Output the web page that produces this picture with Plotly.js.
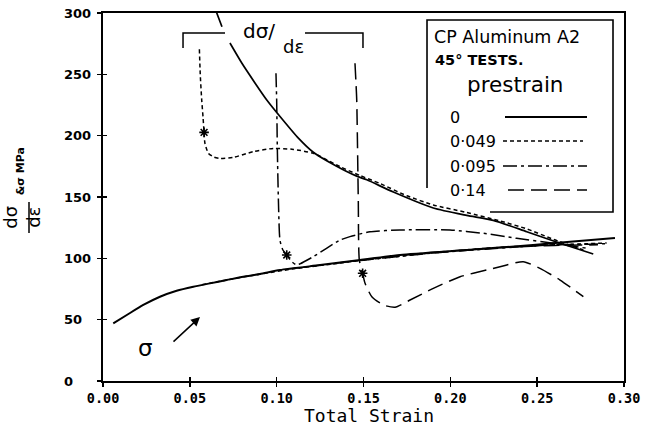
<!DOCTYPE html>
<html>
<head>
<meta charset="utf-8">
<script src="https://cdn.plot.ly/plotly-3.0.1.min.js"></script>
<style>html,body{margin:0;padding:0;background:#fff;}#chart{width:655px;height:427px;}</style>
</head>
<body>
<div id="chart"></div>
<script>
// ---- data ----
const xTickVals = [0, 0.05, 0.10, 0.15, 0.20, 0.25, 0.30];
const xTickText = ['0.00', '0.05', '0.10', '0.15', '0.20', '0.25', '0.30'];
const yTickVals = [0, 50, 100, 150, 200, 250, 300];
const yTickText = ['0', '50', '100', '150', '200', '250', '300'];

const prestrainLabels = ['0', '0·049', '0·095', '0·14'];

// d(sigma)/d(epsilon) curves
const slope0X = [0.0625, 0.0655, 0.0685, null, 0.0731, 0.0800, 0.0875, 0.0943, 0.1036, 0.1125, 0.1211, 0.1340, 0.1461, 0.1519, 0.1672, 0.1902, 0.2094, 0.2247, 0.2440, 0.2632, 0.2823];
const slope0Y = [311, 300, 288.8, null, 275.5, 259, 243, 229.1, 212.8, 198, 186.5, 175.5, 167, 164, 154, 141, 135, 131, 121.7, 112.3, 103.5];

const slope049X = [0.0555, 0.0560, 0.0568, 0.0576, 0.0582, 0.0587, 0.0607, 0.0640, 0.0674, 0.0751, 0.0866, 0.0981, 0.1096, 0.1211, 0.1365, 0.1480, 0.1595, 0.1750, 0.1902, 0.2090, 0.2286, 0.2440, 0.2593, 0.2766];
const slope049Y = [270.4, 250, 230, 215, 202.7, 193.8, 185.6, 182.5, 181.5, 182.3, 187, 189.6, 188.8, 185.6, 174.7, 167.5, 161, 151, 143.5, 137.5, 130.5, 124, 115.5, 106.8];

const slope095X = [0.0996, 0.0998, 0.1000, 0.1004, 0.1010, 0.1019, 0.1035, 0.1058, 0.1085, 0.1115, 0.1134, 0.1211, 0.1365, 0.1422, 0.1537, 0.1710, 0.1998, 0.2190, 0.2382, 0.2593, 0.2785];
const slope095Y = [250.8, 240, 229, 188.3, 147.6, 114.9, 107, 102.7, 97.5, 94.6, 95.5, 101.4, 114.9, 117.7, 121.7, 123.1, 123.1, 120.4, 116.3, 112.3, 108.2];

const slope14X = [0.1451, 0.1456, 0.1461, 0.1470, 0.1476, 0.1495, 0.1509, 0.1548, 0.1614, 0.1682, 0.1768, 0.1902, 0.2056, 0.2210, 0.2325, 0.2420, 0.2516, 0.2632, 0.2766];
const slope14Y = [259, 245, 229, 147.6, 98.6, 87.8, 79.6, 68.7, 62, 60.1, 66, 75.5, 85, 90.5, 94.6, 97.3, 91.8, 82.3, 68.7];

// sigma (flow stress) curves
const stress0X = [0.0059, 0.0137, 0.0232, 0.0328, 0.0424, 0.0520, 0.0616, 0.0712, 0.0808, 0.0904, 0.1019, 0.1250, 0.1480, 0.1710, 0.2096, 0.2476, 0.2672, 0.2948];
const stress0Y = [47.0, 53.8, 62.0, 68.7, 73.6, 76.9, 79.6, 82.3, 85.0, 87.2, 90.5, 94.5, 98.6, 102.7, 106.8, 110.9, 113.3, 116.6];

const stress049X = [0.057, 0.07, 0.09, 0.11, 0.13, 0.15, 0.17, 0.19, 0.21, 0.23, 0.25, 0.27, 0.29];
const stress049Y = [78.5, 82, 87, 91.5, 95, 98.6, 101.5, 104.5, 107, 109, 110.5, 111.5, 112.5];

const stress095X = [0.105, 0.12, 0.14, 0.16, 0.18, 0.20, 0.22, 0.24, 0.26, 0.28, 0.29];
const stress095Y = [91, 93.5, 97, 100, 103, 105.5, 107.5, 109.5, 111, 111.5, 112];

const stress14X = [0.148, 0.16, 0.18, 0.20, 0.22, 0.24, 0.26, 0.275, 0.285];
const stress14Y = [98.5, 100.5, 103.5, 106, 108, 109.5, 110.5, 110.8, 111];

// reload points marked with stars
const starX = [0.0582, 0.1058, 0.1495];
const starY = [202.7, 102.7, 87.8];

// ---- styles ----
const dashStyles = ['solid', '4px,3px', '14px,4px,3px,4px', '16px,7px'];
const ink = '#000';

function line(x, y, dash, w) {
  return {x: x, y: y, type: 'scatter', mode: 'lines', connectgaps: false,
          line: {color: ink, width: w, dash: dash, shape: 'spline', smoothing: 0.6},
          hoverinfo: 'skip', showlegend: false};
}
const dummy = (xa, ya) => ({x: [null], y: [null], xaxis: xa, yaxis: ya, type: 'scatter', mode: 'lines', hoverinfo: 'skip', showlegend: false});

const traces = [
  line(slope0X, slope0Y, dashStyles[0], 1.7),
  line(stress0X, stress0Y, dashStyles[0], 2),
  line(slope049X, slope049Y, dashStyles[1], 1.5),
  line(stress049X, stress049Y, dashStyles[1], 1.5),
  line(slope095X, slope095Y, dashStyles[2], 1.5),
  line(stress095X, stress095Y, dashStyles[2], 1.5),
  line(slope14X, slope14Y, dashStyles[3], 1.5),
  line(stress14X, stress14Y, dashStyles[3], 1.5),
  {x: starX, y: starY, type: 'scatter', mode: 'markers',
   marker: {symbol: 'asterisk-open', size: 8, color: ink, line: {color: ink, width: 1.6}},
   hoverinfo: 'skip', showlegend: false},
  dummy('x2', 'y2'), dummy('x', 'y3'), dummy('x', 'y4')
];

// ---- layout helpers (pixel -> paper) ----
const L = 103, R = 624, T = 13, B = 381;
const px = p => (p - L) / (R - L);
const py = p => (B - p) / (B - T);

const annotations = [];
yTickVals.forEach((v, i) => annotations.push({
  xref: 'paper', x: px(62), xanchor: 'left', yref: 'y', y: v, yanchor: 'middle',
  text: yTickText[i], showarrow: false,
  font: {family: 'DejaVu Sans', size: 13, weight: 'bold', color: ink}
}));

// x axis title
annotations.push({xref: 'paper', yref: 'paper', x: px(369), y: py(415), text: 'Total Strain', showarrow: false,
  xanchor: 'center', yanchor: 'middle', font: {family: 'DejaVu Sans Mono', size: 18, color: ink}});

// legend box text
annotations.push({xref: 'paper', yref: 'paper', x: px(432), y: py(37), text: 'CP Aluminum A2', showarrow: false,
  xanchor: 'left', yanchor: 'middle', font: {family: 'DejaVu Sans', size: 17.5, color: ink}});
annotations.push({xref: 'paper', yref: 'paper', x: px(433), y: py(60), text: '45° TESTS.', showarrow: false,
  xanchor: 'left', yanchor: 'middle', font: {family: 'DejaVu Sans', size: 14.5, weight: 'bold', color: ink}});
annotations.push({xref: 'paper', yref: 'paper', x: px(465), y: py(84), text: 'prestrain', showarrow: false,
  xanchor: 'left', yanchor: 'middle', font: {family: 'DejaVu Sans', size: 21.5, color: ink}});
const legendRowsY = [117, 141, 166, 190];
const legendLineX = [[505, 587], [503, 583], [503, 587], [508, 587]];
prestrainLabels.forEach((t, i) => annotations.push({xref: 'paper', yref: 'paper', x: px(448), y: py(legendRowsY[i]), text: t,
  showarrow: false, xanchor: 'left', yanchor: 'middle', font: {family: 'DejaVu Sans', size: 16, color: ink}}));

// in-plot labels
annotations.push({xref: 'paper', yref: 'paper', x: px(259), y: py(31), text: 'dσ/', showarrow: false,
  xanchor: 'center', yanchor: 'middle', font: {family: 'DejaVu Sans', size: 20, color: ink}});
annotations.push({xref: 'paper', yref: 'paper', x: px(293), y: py(46), text: 'dε', showarrow: false,
  xanchor: 'center', yanchor: 'middle', font: {family: 'DejaVu Sans', size: 18, color: ink}});
annotations.push({xref: 'paper', yref: 'paper', x: px(145), y: py(348), text: 'σ', showarrow: false,
  xanchor: 'center', yanchor: 'middle', font: {family: 'DejaVu Sans', size: 23, color: ink}});
annotations.push({xref: 'paper', yref: 'paper', x: px(200), y: py(317), axref: 'paper', ayref: 'paper',
  ax: px(172), ay: py(343), text: '', showarrow: true, arrowhead: 2, arrowsize: 1.2, arrowwidth: 1.5, arrowcolor: ink});

const shapes = [];
// fraction bar of y title
shapes.push({type: 'line', xref: 'paper', yref: 'paper', x0: px(29), x1: px(29), y0: py(202), y1: py(233), line: {color: ink, width: 1.5}});
// bracket around dσ/dε label
const brL = [[183, 48], [183, 33], [225, 33]];
const brR = [[305, 33], [363, 33], [363, 48]];
const path = pts => pts.map((p, i) => (i ? 'L ' : 'M ') + px(p[0]).toFixed(4) + ',' + py(p[1]).toFixed(4)).join(' ');
shapes.push({type: 'path', xref: 'paper', yref: 'paper', path: path(brL), line: {color: ink, width: 1.5}});
shapes.push({type: 'path', xref: 'paper', yref: 'paper', path: path(brR), line: {color: ink, width: 1.5}});
// legend box (lower-left corner open as in the reference)
shapes.push({type: 'path', xref: 'paper', yref: 'paper',
  path: path([[427, 188], [427, 20], [613, 20], [613, 212], [490, 212]]), line: {color: ink, width: 1.6}});
// legend line samples
legendRowsY.forEach((yy, i) => shapes.push({type: 'line', xref: 'paper', yref: 'paper',
  x0: px(legendLineX[i][0]), x1: px(legendLineX[i][1]), y0: py(yy), y1: py(yy),
  line: {color: ink, width: i === 0 ? 2 : 1.5, dash: dashStyles[i]}}));

const axisCommon = {showgrid: false, zeroline: false, color: ink};
const hiddenAxis = {showgrid: false, zeroline: false, showline: false, ticks: '', showticklabels: false, range: [0, 1], color: ink};
const layout = {
  width: 655, height: 427,
  margin: {l: L, r: 655 - R, t: T, b: 427 - B},
  paper_bgcolor: '#fff', plot_bgcolor: 'rgba(0,0,0,0)',
  showlegend: false,
  xaxis: Object.assign({}, axisCommon, {
    range: [0, 0.3], tickmode: 'array', tickvals: xTickVals, ticktext: xTickText,
    ticks: 'outside', ticklen: 4, tickwidth: 1.5, tickcolor: ink,
    showline: true, linewidth: 2, linecolor: ink, mirror: true,
    tickfont: {family: 'DejaVu Sans Mono', size: 13.5, weight: 'bold', color: ink}
  }),
  yaxis: Object.assign({}, axisCommon, {
    range: [0, 300], tickmode: 'array', tickvals: yTickVals, showticklabels: false,
    ticks: 'outside', ticklen: 4, tickwidth: 1.5, tickcolor: ink,
    showline: true, linewidth: 2, linecolor: ink, mirror: true
  }),
  xaxis2: Object.assign({}, axisCommon, {overlaying: 'x', range: [0, 0.3], tickmode: 'array', tickvals: xTickVals,
    ticks: 'inside', ticklen: 4, tickwidth: 1.5, tickcolor: ink, showticklabels: false, showline: false}),
  yaxis2: Object.assign({}, axisCommon, {overlaying: 'y', range: [0, 300], tickmode: 'array', tickvals: yTickVals,
    ticks: 'inside', ticklen: 4, tickwidth: 1.5, tickcolor: ink, showticklabels: false, showline: false}),
  // rotated y-axis title pieces carried by two invisible free axes
  yaxis3: Object.assign({}, hiddenAxis, {domain: [0.40, 0.49], anchor: 'free', position: 0,
    title: {text: 'dσ<br>dε', standoff: 56, font: {family: 'DejaVu Sans', size: 18, color: ink}}}),
  yaxis4: Object.assign({}, hiddenAxis, {domain: [0.53, 0.61], anchor: 'free', position: 0,
    title: {text: '<b>&amp;σ MPa</b>', standoff: 75, font: {family: 'DejaVu Sans', size: 11, color: ink}}}),
  annotations: annotations,
  shapes: shapes
};

Plotly.newPlot('chart', traces, layout, {staticPlot: true, displayModeBar: false});
</script>
</body>
</html>
